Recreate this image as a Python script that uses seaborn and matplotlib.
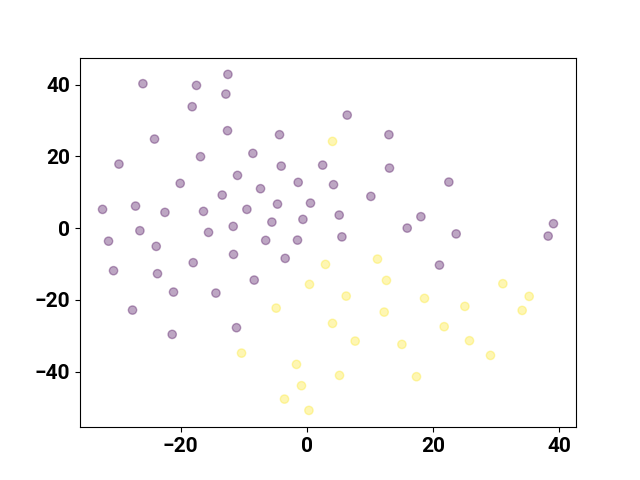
import matplotlib
matplotlib.use("Agg")
import matplotlib.pyplot as plt
import seaborn as sns
import pandas as pd

# Cluster 0 (purple)
x0 = [-32.39, -31.44, -30.65, -29.79, -27.16, -26.47, -27.64, -25.99, -24.15, -23.88,
      -23.68, -22.50, -21.14, -21.35, -20.08, -18.18, -18.02, -17.50, -16.86, -16.39,
      -15.59, -14.42, -13.42, -12.84, -12.52, -12.58, -11.68, -11.63, -11.00, -11.16,
      -9.51, -8.56, -8.35, -7.35, -6.53, -5.55, -4.66, -4.34, -4.07, -3.44,
      -1.49, -1.38, -0.63, 0.57, 2.50, 4.22, 5.12, 5.55, 6.39, 13.00,
      13.09, 10.14, 15.90, 18.07, 22.50, 23.66, 21.01, 38.24, 39.08]
y0 = [5.22, -3.65, -11.88, 17.85, 6.14, -0.73, -22.87, 40.28, 24.83, -5.10,
      -12.72, 4.38, -17.85, -29.65, 12.47, 33.86, -9.65, 39.80, 19.92, 4.66,
      -1.20, -18.13, 9.21, 37.38, 42.87, 27.17, 0.47, -7.34, 14.70, -27.78,
      5.22, 20.84, -14.50, 10.99, -3.43, 1.67, 6.69, 26.05, 17.29, -8.45,
      -3.35, 12.75, 2.43, 6.97, 17.57, 12.11, 3.63, -2.45, 31.52, 26.05,
      16.74, 8.84, 0.00, 3.18, 12.83, -1.62, -10.32, -2.23, 1.23]

# Cluster 1 (yellow)
x1 = [4.06, 2.95, 0.41, -4.87, 4.06, -10.36, -1.65, -0.86, -3.55, 0.32,
      11.19, 12.61, 6.23, 18.64, 31.06, 35.23, 34.12, 25.04, 12.25, 21.76,
      7.65, 15.06, 25.77, 29.10, 5.17, 17.37]
y1 = [24.18, -10.13, -15.70, -22.32, -26.58, -34.87, -38.02, -43.96, -47.70, -50.85,
      -8.65, -14.59, -18.97, -19.61, -15.51, -19.05, -22.96, -21.84, -23.43, -27.50,
      -31.52, -32.44, -31.41, -35.51, -41.09, -41.45]

labels = [0] * len(x0) + [1] * len(x1)
colors = ["#440154", "#fde725"]

df = pd.DataFrame({"x": x0 + x1, "y": y0 + y1, "label": labels})

plt.rcParams["font.family"] = ["Roboto", "DejaVu Sans"]
plt.rcParams["font.weight"] = "bold"
plt.rcParams["xtick.labelsize"] = 15
plt.rcParams["ytick.labelsize"] = 15

fig, ax = plt.subplots(figsize=(6.4, 4.8), dpi=100)
sns.scatterplot(data=df, x="x", y="y", hue="label", palette=colors, alpha=0.35,
                s=36, edgecolor="face", linewidth=1.0, legend=False, ax=ax)
ax.set_xlabel("")
ax.set_ylabel("")
for lab in ax.get_xticklabels() + ax.get_yticklabels():
    lab.set_fontweight("bold")
fig.savefig("out.png", dpi=100)
